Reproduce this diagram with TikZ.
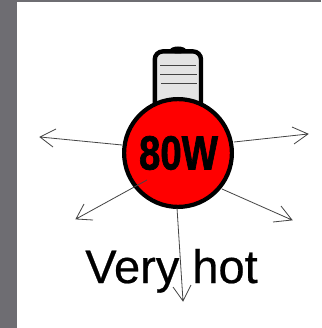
\documentclass[tikz,border=0pt]{standalone}
\usepackage{fontspec}
\setmainfont{Liberation Sans}
\newfontfamily\powerfont[FakeBold=1.6]{Liberation Sans Bold}
\newfontfamily\labelfont[FakeBold=0.5]{Liberation Sans}
\definecolor{framegray}{HTML}{6E6D72}
\definecolor{basegray}{HTML}{E4E4E4}
\definecolor{raygray}{HTML}{444444}
\tikzset{
  ray/.style={draw=raygray,line width=0.8pt},
  rib/.style={draw=raygray,line width=0.9pt},
}
\begin{document}
\begin{tikzpicture}[x=1pt,y=-1pt]
\useasboundingbox (0,0) rectangle (321,328);
\fill[white] (0,0) rectangle (321,328);
\fill[framegray] (0,0) rectangle (321,2);
\fill[framegray] (0,0) rectangle (16.5,328);
% base
\draw[black,line width=4.4pt,fill=basegray,rounded corners=8pt] (154.8,110) -- (154.8,51.4) -- (201,51.4) -- (201,110) -- cycle;
\fill[black] (178,50) ellipse (8 and 3.5);
\draw[rib] (160,65) -- (196,65);
\draw[rib] (160,74) -- (197,74);
\draw[rib] (161,83) -- (197,83);
% bulb
\node[circle,draw=black,fill=red,line width=4.2pt,minimum size=107.8pt,inner sep=0pt] (bulb) at (178,153) {};
\node[inner sep=0pt,anchor=center,xscale=0.8] (power) at (178.5,153) {\fontsize{48}{48}\selectfont\powerfont 80W};
\node[inner sep=0pt,anchor=base] (label) at (171.5,283) {\fontsize{47}{47}\selectfont\labelfont Very hot};
% ray ends
\coordinate (lstart) at (122,145);
\coordinate (lt) at (40,137);
\coordinate (lla) at (56,129);
\coordinate (llb) at (53,147);
\coordinate (dl) at (76,219);
\coordinate (dla) at (84,204);
\coordinate (dlb) at (93,220);
\coordinate (rstart) at (234,142);
\coordinate (rt) at (308,134);
\coordinate (rta) at (292,127);
\coordinate (rtb) at (294,144);
\coordinate (drstart) at (222,189);
\coordinate (dr) at (292,220);
\coordinate (dra) at (281,206);
\coordinate (drb) at (273,222);
\coordinate (dnstart) at (177,208);
\coordinate (dn) at (183,301);
\coordinate (dna) at (173,287);
\coordinate (dnb) at (191,285);
\coordinate (dlstart) at (147,180);
\draw[ray] (lstart) -- (lt) (lla) -- (lt) -- (llb);
\draw[ray] (dlstart) -- (dl) (dla) -- (dl) -- (dlb);
\draw[ray] (rstart) -- (rt) (rta) -- (rt) -- (rtb);
\draw[ray] (drstart) -- (dr) (dra) -- (dr) -- (drb);
\draw[ray] (dnstart) -- (dn) (dna) -- (dn) -- (dnb);
\end{tikzpicture}
\end{document}
